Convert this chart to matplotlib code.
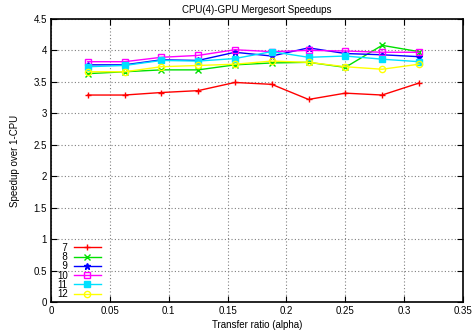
import matplotlib
matplotlib.use("Agg")
import matplotlib.pyplot as plt

# transfer ratio values (1/32 steps)
alpha = [0.03125, 0.0625, 0.09375, 0.125, 0.15625, 0.1875, 0.21875, 0.25, 0.28125, 0.3125]

s7 = [3.29, 3.29, 3.33, 3.36, 3.49, 3.46, 3.22, 3.32, 3.29, 3.48]
s8 = [3.63, 3.66, 3.69, 3.69, 3.77, 3.80, 3.81, 3.73, 4.08, 3.98]
s9 = [3.77, 3.77, 3.85, 3.84, 3.97, 3.91, 4.04, 3.95, 3.93, 3.90]
s10 = [3.82, 3.82, 3.89, 3.92, 4.01, 3.98, 4.00, 3.99, 3.97, 3.97]
s11 = [3.74, 3.76, 3.84, 3.83, 3.87, 3.98, 3.89, 3.91, 3.86, 3.82]
s12 = [3.66, 3.66, 3.74, 3.76, 3.78, 3.83, 3.81, 3.74, 3.70, 3.78]

# figure space pads single digits so labels line up on the right
labels = ["\u20077", "\u20078", "\u20079", "10", "11", "12"]
colors = ["#ff0000", "#00e000", "#0000ff", "#ff00ff", "#00e0ff", "#ffff00"]
markers = ["+", "x", "*", "s", "s", "o"]
filled = [True, True, True, False, True, False]

plt.rcParams["font.family"] = ["Liberation Sans", "DejaVu Sans"]
plt.rcParams["font.size"] = 7

fig = plt.figure(figsize=(4.72, 3.32), dpi=100)
ax = fig.add_axes([0.108, 0.0904, 0.873, 0.8526])

for ys, lab, c, m, f in zip([s7, s8, s9, s10, s11, s12], labels, colors, markers, filled):
    ax.plot(alpha, ys, color=c, lw=1, marker=m, markersize=4.5,
            markerfacecolor=c if f else "none", markeredgecolor=c,
            markeredgewidth=1, label=lab)

ax.set_xlim(0, 0.35)
ax.set_ylim(0, 4.5)
ax.set_xticks([0, 0.05, 0.1, 0.15, 0.2, 0.25, 0.3, 0.35])
ax.set_xticklabels(["0", "0.05", "0.1", "0.15", "0.2", "0.25", "0.3", "0.35"])
ax.set_yticks([0, 0.5, 1, 1.5, 2, 2.5, 3, 3.5, 4, 4.5])
ax.set_yticklabels(["0", "0.5", "1", "1.5", "2", "2.5", "3", "3.5", "4", "4.5"])
ax.tick_params(direction="in", top=True, right=True, length=4, width=0.8, pad=3)
ax.grid(True, color="#808080", linestyle=(0, (1, 2)), linewidth=0.8)
for sp in ax.spines.values():
    sp.set_linewidth(1.2)

ax.set_title("CPU(4)-GPU Mergesort Speedups", fontsize=7, pad=4)
ax.set_xlabel("Transfer ratio (alpha)", labelpad=3)
ax.set_ylabel("Speedup over 1-CPU", labelpad=10)

leg = ax.legend(loc="lower left", markerfirst=False, frameon=False, handlelength=2.8,
                labelspacing=-0.08, borderaxespad=0.0, handletextpad=0.6,
                bbox_to_anchor=(0.005, -0.003))

fig.savefig("out.png", dpi=100)
